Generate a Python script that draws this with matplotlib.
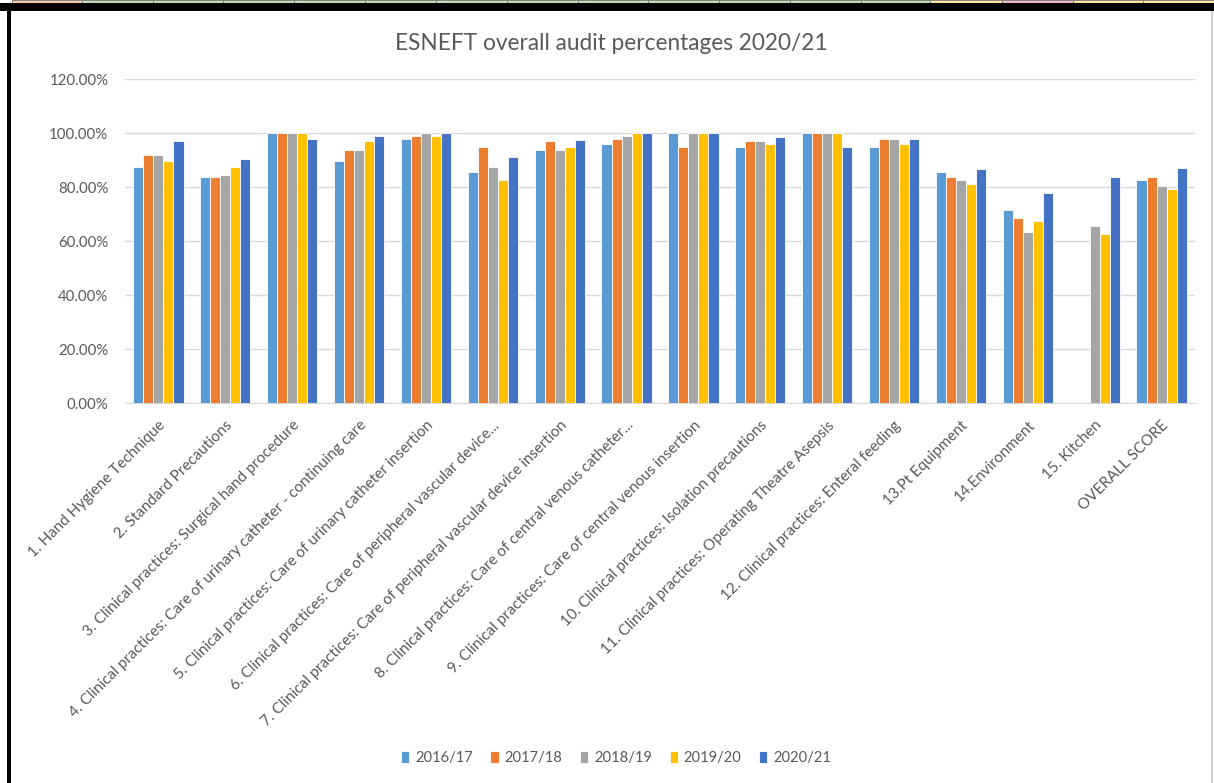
import matplotlib.pyplot as plt
import numpy as np
from matplotlib.patches import Rectangle
from matplotlib.ticker import FuncFormatter

plt.rcParams['font.family'] = ['Lato', 'DejaVu Sans']

categories = [
    "1. Hand Hygiene Technique",
    "2. Standard Precautions",
    "3. Clinical practices: Surgical hand procedure",
    "4. Clinical practices: Care of urinary catheter - continuing care",
    "5. Clinical practices: Care of urinary catheter insertion",
    "6. Clinical practices: Care of peripheral vascular device...",
    "7. Clinical practices: Care of peripheral vascular device insertion",
    "8. Clinical practices: Care of central venous catheter...",
    "9. Clinical practices: Care of central venous insertion",
    "10. Clinical practices: Isolation precautions",
    "11. Clinical practices: Operating Theatre Asepsis",
    "12. Clinical practices: Enteral feeding",
    "13.Pt Equipment",
    "14.Environment",
    "15. Kitchen",
    "OVERALL SCORE",
]

years = ["2016/17", "2017/18", "2018/19", "2019/20", "2020/21"]

y2016 = [87.5, 83.6, 100, 89.6, 97.9, 85.6, 93.7, 95.8, 100, 94.8, 100, 94.8, 85.6, 71.6, np.nan, 82.5]
y2017 = [91.7, 83.6, 100, 93.7, 98.9, 94.8, 96.9, 97.9, 94.8, 96.9, 100, 97.9, 83.6, 68.6, np.nan, 83.6]
y2018 = [91.7, 84.4, 100, 93.7, 100, 87.5, 93.7, 98.9, 100, 96.9, 100, 97.9, 82.5, 63.3, 65.6, 80.4]
y2019 = [89.6, 87.5, 100, 96.9, 98.9, 82.5, 94.8, 100, 100, 95.8, 100, 95.8, 81.2, 67.5, 62.5, 79.4]
y2020 = [96.9, 90.2, 97.9, 98.9, 100, 91.2, 97.4, 100, 100, 98.4, 94.8, 97.9, 86.5, 77.8, 83.6, 87.0]

series = [y2016, y2017, y2018, y2019, y2020]
colors = ["#5B9BD5", "#ED7D31", "#A5A5A5", "#FFC000", "#4472C4"]
text_col = "#595959"

W, H = 1214, 783
fig = plt.figure(figsize=(W / 100, H / 100), dpi=100)

# spreadsheet cells peeking above the chart, plus the frame
cell_edges = [12, 82, 153, 223, 294, 365, 436, 507, 578, 648, 719, 790, 861, 930, 1002, 1073, 1143, 1214]
cell_cols = ["#F8CBAD"] + ["#C6E0B4"] * 12 + ["#FFE699", "#F4B6C2", "#FFE699", "#FFE699"]
for x0, x1, c in zip(cell_edges[:-1], cell_edges[1:], cell_cols):
    fig.patches.append(Rectangle((x0 / W, 1 - 3 / H), (x1 - x0) / W, 3 / H,
                                 transform=fig.transFigure, facecolor=c,
                                 edgecolor="#707070", linewidth=0.6))
fig.patches.append(Rectangle((0, 1 - 11 / H), 1, 8 / H, transform=fig.transFigure,
                             facecolor="black", edgecolor="none"))
fig.patches.append(Rectangle((7 / W, 0), 4 / W, 1 - 3 / H, transform=fig.transFigure,
                             facecolor="black", edgecolor="none"))
fig.patches.append(Rectangle((1211 / W, 0), 2 / W, 1 - 11 / H, transform=fig.transFigure,
                             facecolor="#D0D0D0", edgecolor="none"))

ax = fig.add_axes([125 / W, 1 - 403 / H, 1070 / W, 324 / H])

x = np.arange(len(categories))
bw = 0.15
for i, (vals, col, lab) in enumerate(zip(series, colors, years)):
    ax.bar(x + (i - 2) * bw, vals, bw, color=col, edgecolor="white", linewidth=0.6,
           label=lab, zorder=3)

ax.set_xlim(-0.5, len(categories) - 0.5)
ax.set_ylim(0, 120)
ax.set_yticks(np.arange(0, 121, 20))
ax.yaxis.set_major_formatter(FuncFormatter(lambda v, p: f"{v:.2f}%"))
ax.grid(axis="y", color="#D9D9D9", linewidth=1, zorder=0)
for s in ["top", "right", "left"]:
    ax.spines[s].set_visible(False)
ax.spines["bottom"].set_color("#D9D9D9")
ax.tick_params(axis="y", length=0, pad=12, labelsize=10.8, labelcolor=text_col)
ax.tick_params(axis="x", length=0, pad=11, labelsize=11, labelcolor=text_col)
ax.set_xticks(x)
ax.set_xticklabels(categories, rotation=45, ha="right", va="top", rotation_mode="anchor")

fig.text(611 / W, 1 - 44 / H, "ESNEFT overall audit percentages 2020/21", ha="center",
         va="center", fontsize=16.3, color=text_col)

fig.legend(loc="center", bbox_to_anchor=(616 / W, 1 - 758 / H), ncol=5, frameon=False,
           fontsize=10.6, labelcolor=text_col, handlelength=0.55, handleheight=0.9,
           handletextpad=0.4, columnspacing=1.2)

fig.savefig("out.png", dpi=100)
